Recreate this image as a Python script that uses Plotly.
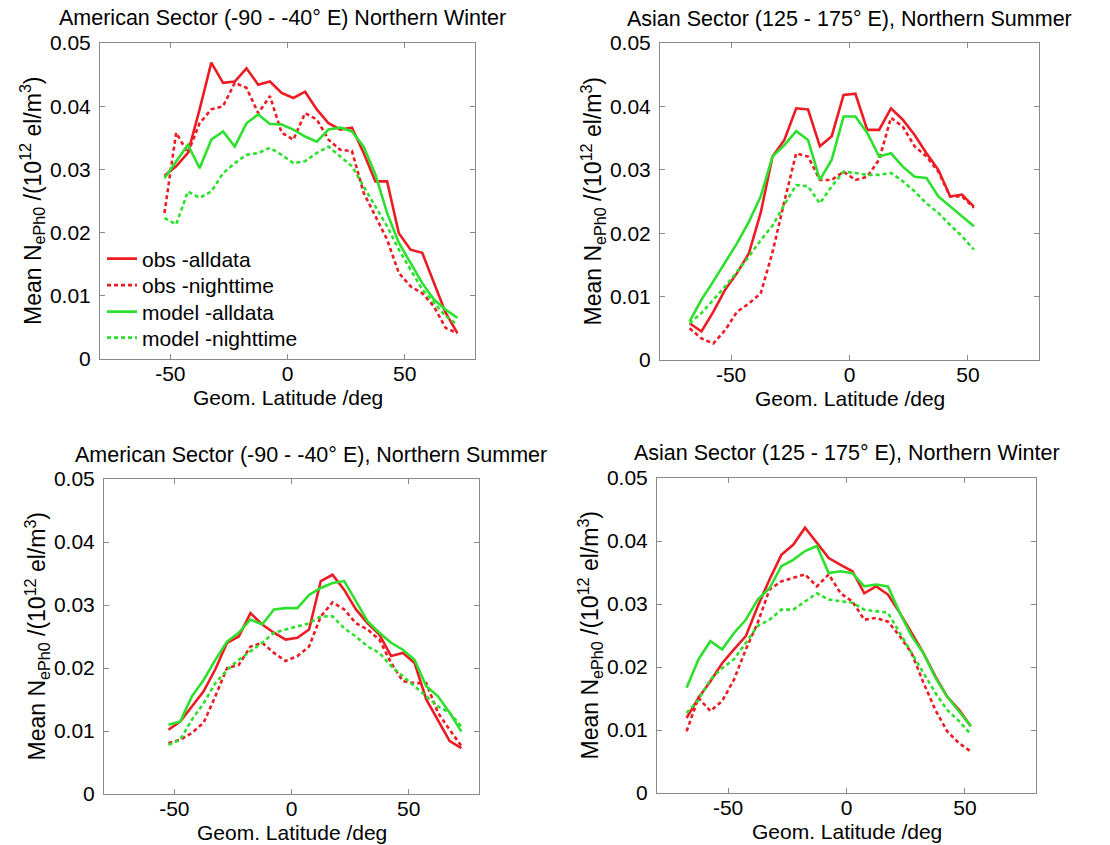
import plotly.graph_objects as go

# Latitude grids (5 degree bins)
lat_american = [-52.5, -47.5, -42.5, -37.5, -32.5, -27.5, -22.5, -17.5, -12.5, -7.5,
                -2.5, 2.5, 7.5, 12.5, 17.5, 22.5, 27.5, 32.5, 37.5, 42.5,
                47.5, 52.5, 57.5, 62.5, 67.5, 72.5]
lat_asian = [-67.5, -62.5, -57.5, -52.5, -47.5, -42.5, -37.5, -32.5, -27.5, -22.5,
             -17.5, -12.5, -7.5, -2.5, 2.5, 7.5, 12.5, 17.5, 22.5, 27.5,
             32.5, 37.5, 42.5, 47.5, 52.5]

# American sector, northern winter
am_win_obs_all = [0.0290, 0.0305, 0.0326, 0.0395, 0.0469, 0.0437, 0.0439, 0.0460, 0.0434, 0.0439,
                  0.0421, 0.0413, 0.0423, 0.0395, 0.0373, 0.0363, 0.0366, 0.0326, 0.0281, 0.0281,
                  0.0199, 0.0173, 0.0168, 0.0120, 0.0073, 0.0041]
am_win_obs_night = [0.0231, 0.0358, 0.0326, 0.0373, 0.0395, 0.0400, 0.0437, 0.0429, 0.0389, 0.0416,
                    0.0358, 0.0347, 0.0389, 0.0379, 0.0347, 0.0331, 0.0329, 0.0263, 0.0226, 0.0189,
                    0.0136, 0.0115, 0.0104, 0.0083, 0.0049, 0.0041]
am_win_mod_all = [0.0286, 0.0313, 0.0339, 0.0302, 0.0347, 0.0360, 0.0336, 0.0373, 0.0387, 0.0372,
                  0.0371, 0.0363, 0.0352, 0.0344, 0.0363, 0.0366, 0.0360, 0.0336, 0.0292, 0.0231,
                  0.0184, 0.0152, 0.0120, 0.0094, 0.0078, 0.0065]
am_win_mod_night = [0.0223, 0.0213, 0.0265, 0.0255, 0.0265, 0.0294, 0.0310, 0.0323, 0.0326, 0.0334,
                    0.0323, 0.0310, 0.0313, 0.0326, 0.0336, 0.0321, 0.0305, 0.0273, 0.0242, 0.0210,
                    0.0173, 0.0141, 0.0110, 0.0089, 0.0068, 0.0054]

# Asian sector, northern summer
as_sum_obs_all = [0.0058, 0.0045, 0.0076, 0.0111, 0.0137, 0.0168, 0.0232, 0.0321, 0.0347, 0.0397,
                  0.0395, 0.0337, 0.0353, 0.0418, 0.0420, 0.0363, 0.0363, 0.0397, 0.0379, 0.0355,
                  0.0326, 0.0300, 0.0258, 0.0261, 0.0242]
as_sum_obs_night = [0.0050, 0.0034, 0.0026, 0.0047, 0.0076, 0.0089, 0.0105, 0.0170, 0.0250, 0.0326,
                    0.0321, 0.0284, 0.0284, 0.0297, 0.0284, 0.0289, 0.0316, 0.0382, 0.0368, 0.0337,
                    0.0321, 0.0297, 0.0258, 0.0258, 0.0240]
as_sum_mod_all = [0.0061, 0.0095, 0.0124, 0.0153, 0.0184, 0.0218, 0.0258, 0.0321, 0.0339, 0.0361,
                  0.0347, 0.0284, 0.0316, 0.0384, 0.0384, 0.0358, 0.0321, 0.0326, 0.0305, 0.0289,
                  0.0287, 0.0258, 0.0242, 0.0226, 0.0211]
as_sum_mod_night = [0.0058, 0.0074, 0.0095, 0.0116, 0.0139, 0.0163, 0.0189, 0.0212, 0.0245, 0.0276,
                    0.0274, 0.0247, 0.0274, 0.0297, 0.0295, 0.0292, 0.0292, 0.0295, 0.0282, 0.0266,
                    0.0247, 0.0232, 0.0213, 0.0195, 0.0174]

# American sector, northern summer
am_sum_obs_all = [0.0102, 0.0115, 0.0139, 0.0163, 0.0198, 0.0240, 0.0250, 0.0287, 0.0269, 0.0256,
                  0.0245, 0.0248, 0.0261, 0.0338, 0.0348, 0.0324, 0.0293, 0.0271, 0.0253, 0.0219,
                  0.0224, 0.0208, 0.0150, 0.0118, 0.0084, 0.0073]
am_sum_obs_night = [0.0081, 0.0086, 0.0097, 0.0113, 0.0155, 0.0200, 0.0205, 0.0234, 0.0240, 0.0224,
                    0.0211, 0.0219, 0.0234, 0.0282, 0.0304, 0.0293, 0.0271, 0.0261, 0.0245, 0.0208,
                    0.0179, 0.0176, 0.0176, 0.0129, 0.0102, 0.0076]
am_sum_mod_all = [0.0110, 0.0115, 0.0155, 0.0181, 0.0213, 0.0242, 0.0256, 0.0277, 0.0269, 0.0293,
                  0.0295, 0.0295, 0.0316, 0.0327, 0.0335, 0.0338, 0.0306, 0.0274, 0.0256, 0.0240,
                  0.0229, 0.0213, 0.0171, 0.0155, 0.0129, 0.0099]
am_sum_mod_night = [0.0078, 0.0086, 0.0118, 0.0144, 0.0176, 0.0197, 0.0213, 0.0226, 0.0240, 0.0256,
                    0.0261, 0.0266, 0.0271, 0.0282, 0.0282, 0.0263, 0.0250, 0.0234, 0.0224, 0.0203,
                    0.0187, 0.0171, 0.0155, 0.0139, 0.0129, 0.0107]

# Asian sector, northern winter
as_win_obs_all = [0.0119, 0.0151, 0.0177, 0.0206, 0.0228, 0.0249, 0.0296, 0.0339, 0.0378, 0.0394,
                  0.0421, 0.0397, 0.0373, 0.0362, 0.0352, 0.0317, 0.0328, 0.0315, 0.0286, 0.0254,
                  0.0222, 0.0185, 0.0153, 0.0132, 0.0106]
as_win_obs_night = [0.0098, 0.0151, 0.0130, 0.0146, 0.0180, 0.0228, 0.0270, 0.0323, 0.0336, 0.0341,
                    0.0347, 0.0328, 0.0347, 0.0317, 0.0304, 0.0275, 0.0278, 0.0272, 0.0249, 0.0222,
                    0.0175, 0.0132, 0.0098, 0.0079, 0.0066]
as_win_mod_all = [0.0167, 0.0212, 0.0241, 0.0228, 0.0254, 0.0275, 0.0307, 0.0325, 0.0360, 0.0370,
                  0.0384, 0.0392, 0.0349, 0.0352, 0.0349, 0.0328, 0.0331, 0.0328, 0.0286, 0.0249,
                  0.0222, 0.0183, 0.0153, 0.0130, 0.0106]
as_win_mod_night = [0.0127, 0.0148, 0.0180, 0.0198, 0.0212, 0.0238, 0.0265, 0.0275, 0.0291, 0.0291,
                    0.0304, 0.0317, 0.0307, 0.0304, 0.0302, 0.0291, 0.0288, 0.0286, 0.0254, 0.0222,
                    0.0190, 0.0159, 0.0132, 0.0114, 0.0093]

series_names = ["obs -alldata", "obs -nighttime", "model -alldata", "model -nighttime"]
x_ticks = [-50, 0, 50]
x_tick_text = ["-50", "0", "50"]
y_ticks = [0, 0.01, 0.02, 0.03, 0.04, 0.05]
y_tick_text = ["0", "0.01", "0.02", "0.03", "0.04", "0.05"]
x_label = "Geom. Latitude /deg"
y_label = "Mean N<sub>ePh0</sub> /(10<sup>12</sup> el/m<sup>3</sup>)"

panels = [
    ("American Sector (-90 - -40° E) Northern Winter", lat_american,
     [am_win_obs_all, am_win_obs_night, am_win_mod_all, am_win_mod_night]),
    ("Asian Sector (125 - 175° E), Northern Summer", lat_asian,
     [as_sum_obs_all, as_sum_obs_night, as_sum_mod_all, as_sum_mod_night]),
    ("American Sector (-90 - -40° E), Northern Summer", lat_american,
     [am_sum_obs_all, am_sum_obs_night, am_sum_mod_all, am_sum_mod_night]),
    ("Asian Sector (125 - 175° E), Northern Winter", lat_asian,
     [as_win_obs_all, as_win_obs_night, as_win_mod_all, as_win_mod_night]),
]

W, H = 1110, 845
# plot boxes in pixels: left, right, top, bottom
boxes = [(100, 475, 43, 359), (660, 1039, 43, 360), (104, 479, 479, 794), (657, 1036, 478, 793)]
title_pos = [(282, 18), (849, 19), (311, 455), (847, 453)]
legend_rows = [259, 285.5, 312, 338]

RED = "#ec1c24"
GREEN = "#2ee02e"
styles = [(RED, "solid"), (RED, "4px,3px"), (GREEN, "solid"), (GREEN, "4px,3px")]

FONT = "Arial, Liberation Sans, sans-serif"
AX_COL = "#8a8a8a"

fig = go.Figure()
annotations = []
layout_axes = {}
legends = {}

for i, (title, lat, data) in enumerate(panels):
    n = i + 1
    xa = "x" if n == 1 else f"x{n}"
    ya = "y" if n == 1 else f"y{n}"
    for j, vals in enumerate(data):
        col, dash = styles[j]
        fig.add_trace(go.Scatter(
            x=lat, y=vals, mode="lines", name=series_names[j],
            line=dict(color=col, width=2.6, dash=dash),
            xaxis=xa, yaxis=ya, showlegend=(n == 1),
            legend="legend" if j == 0 else f"legend{j + 1}",
        ))
    l, r, t, b = boxes[i]
    common = dict(showline=True, linecolor=AX_COL, linewidth=1, mirror="ticks",
                  ticks="inside", ticklen=5, tickcolor=AX_COL, showgrid=False,
                  zeroline=False, automargin=False,
                  tickfont=dict(family=FONT, size=21, color="black"))
    layout_axes["xaxis" if n == 1 else f"xaxis{n}"] = dict(
        common, domain=[l / W, r / W], range=[-80, 80], anchor=ya,
        tickvals=x_ticks, ticktext=x_tick_text, ticklabelstandoff=-4,
    )
    layout_axes["yaxis" if n == 1 else f"yaxis{n}"] = dict(
        common, domain=[1 - b / H, 1 - t / H], range=[0, 0.05], anchor=xa,
        tickvals=y_ticks, ticktext=y_tick_text, ticklabelstandoff=4,
    )
    tx, ty = title_pos[i]
    annotations.append(dict(
        text=title, x=tx / W, y=1 - ty / H, xref="paper", yref="paper",
        xanchor="center", yanchor="middle", showarrow=False,
        font=dict(family=FONT, size=21.5, color="black"),
    ))
    # axis titles
    annotations.append(dict(
        text=x_label, x=(l + r) / 2 / W, y=1 - (b + 38) / H, xref="paper", yref="paper",
        xanchor="center", yanchor="middle", showarrow=False,
        font=dict(family=FONT, size=21, color="black"),
    ))
    annotations.append(dict(
        text=y_label, x=(l - 68) / W, y=1 - (t + b) / 2 / H, xref="paper", yref="paper",
        xanchor="center", yanchor="middle", showarrow=False, textangle=-90,
        font=dict(family=FONT, size=23, color="black"),
    ))

for j, row in enumerate(legend_rows):
    key = "legend" if j == 0 else f"legend{j + 1}"
    legends[key] = dict(x=102 / W, y=1 - row / H, xanchor="left", yanchor="middle",
                        bgcolor="rgba(0,0,0,0)", borderwidth=0, itemwidth=30,
                        font=dict(family=FONT, size=21, color="black"))

fig.update_layout(
    width=W, height=H,
    margin=dict(l=0, r=0, t=0, b=0),
    paper_bgcolor="white", plot_bgcolor="white",
    annotations=annotations,
    **legends,
    **layout_axes,
)

fig.write_html("out.html")
